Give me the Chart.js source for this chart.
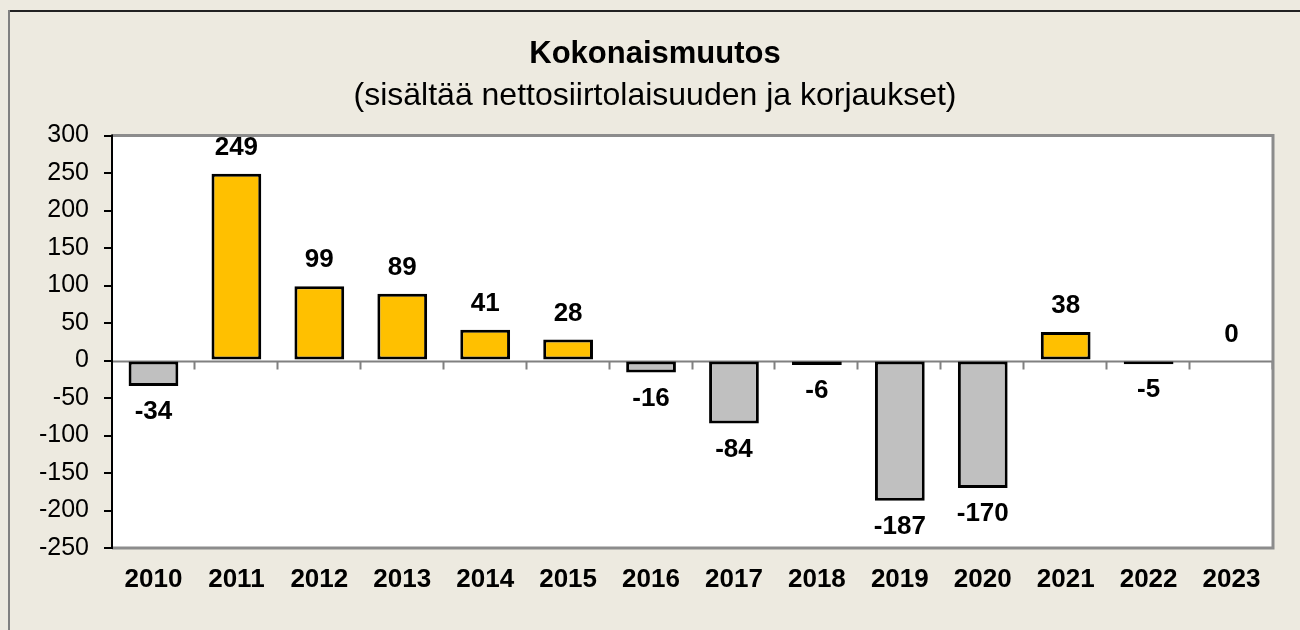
<!DOCTYPE html>
<html>
<head>
<meta charset="utf-8">
<script src="https://cdn.jsdelivr.net/npm/chart.js"></script>
<style>
    html, body { margin: 0; padding: 0; background: #EDEAE0; }
    #wrap { width: 1300px; height: 630px; }
</style>
</head>
<body>
<div id="wrap"><canvas id="muutosChart" width="1300" height="630"></canvas></div>
<script>
// vuodet ja kokonaismuutos
var years = ['2010', '2011', '2012', '2013', '2014', '2015', '2016',
    '2017', '2018', '2019', '2020', '2021', '2022', '2023'];
var changes = [-34, 249, 99, 89, 41, 28, -16, -84, -6, -187, -170, 38, -5, 0];
var yTicks = [300, 250, 200, 150, 100, 50, 0, -50, -100, -150, -200, -250];

var title = 'Kokonaismuutos';
var subtitle = '(sisältää nettosiirtolaisuuden ja korjaukset)';

var FONT = "'Liberation Sans', Arial, sans-serif";

var barColors = changes.map(function (v) {
    return v >= 0 ? '#FFC000' : '#C0C0C0';
});

var frameAndLabels = {
    id: 'frameAndLabels',
    beforeDraw: function (chart) {
        var ctx = chart.ctx;
        var a = chart.chartArea;
        ctx.save();
        ctx.fillStyle = '#EDEAE0';
        ctx.fillRect(0, 0, chart.width, chart.height);
        ctx.fillStyle = '#ffffff';
        ctx.fillRect(a.left, a.top, a.right - a.left, a.bottom - a.top);
        // ulkokehys
        ctx.lineWidth = 2;
        ctx.strokeStyle = '#222222';
        ctx.beginPath();
        ctx.moveTo(8, 11);
        ctx.lineTo(chart.width, 11);
        ctx.stroke();
        ctx.strokeStyle = '#808080';
        ctx.beginPath();
        ctx.moveTo(9, 10);
        ctx.lineTo(9, chart.height);
        ctx.stroke();
        ctx.restore();
    },
    beforeDatasetsDraw: function (chart) {
        var ctx = chart.ctx;
        var a = chart.chartArea;
        var y0 = Math.round(chart.scales.y.getPixelForValue(0)) + 0.5;
        ctx.save();
        ctx.strokeStyle = '#808080';
        ctx.lineWidth = 2;
        ctx.beginPath();
        ctx.moveTo(a.left, y0);
        ctx.lineTo(a.right, y0);
        var step = (a.right - a.left) / years.length;
        for (var i = 1; i <= years.length; i++) {
            var tx = Math.round(a.left + step * i) - 0.5;
            ctx.moveTo(tx, y0);
            ctx.lineTo(tx, y0 + 8);
        }
        ctx.stroke();
        ctx.restore();
    },
    afterDraw: function (chart) {
        var ctx = chart.ctx;
        var a = chart.chartArea;
        ctx.save();
        // kuva-alueen reunat
        ctx.strokeStyle = '#8c8c8c';
        ctx.lineWidth = 3;
        ctx.beginPath();
        ctx.moveTo(a.left, a.top);
        ctx.lineTo(a.right, a.top);
        ctx.lineTo(a.right, a.bottom);
        ctx.lineTo(a.left, a.bottom);
        ctx.stroke();
        ctx.strokeStyle = '#000000';
        ctx.lineWidth = 2;
        ctx.beginPath();
        ctx.moveTo(a.left, a.top - 1);
        ctx.lineTo(a.left, a.bottom + 1);
        ctx.stroke();

        // arvot pylväiden päälle / alle
        var meta = chart.getDatasetMeta(0);
        ctx.fillStyle = '#000000';
        ctx.font = 'bold 26px ' + FONT;
        ctx.textAlign = 'center';
        ctx.textBaseline = 'middle';
        meta.data.forEach(function (bar, i) {
            var v = changes[i];
            var ty = v >= 0 ? bar.y - 26 : bar.y + 26;
            ctx.fillText(String(v), bar.x, ty);
        });
        ctx.restore();
    }
};

var ctx = document.getElementById('muutosChart').getContext('2d');
var chart = new Chart(ctx, {
    type: 'bar',
    data: {
        labels: years,
        datasets: [{
            label: title,
            data: changes,
            backgroundColor: barColors,
            borderColor: '#000000',
            borderWidth: 3,
            borderSkipped: false,
            barPercentage: 0.6,
            categoryPercentage: 1.0
        }]
    },
    options: {
        responsive: false,
        animation: false,
        layout: {
            padding: { left: 37, right: 27, top: 0, bottom: 0 }
        },
        plugins: {
            legend: { display: false },
            tooltip: { enabled: false },
            title: {
                display: true,
                text: title,
                color: '#000000',
                font: { family: FONT, size: 31, weight: 'bold', lineHeight: 1.2 },
                padding: { top: 36, bottom: 0 }
            },
            subtitle: {
                display: true,
                text: subtitle,
                color: '#000000',
                font: { family: FONT, size: 32, weight: 'normal', lineHeight: 1.2 },
                padding: { top: 4, bottom: 20 }
            }
        },
        scales: {
            x: {
                grid: { display: true, drawOnChartArea: false, drawTicks: false },
                border: { display: false },
                ticks: {
                    color: '#000000',
                    padding: 16,
                    maxRotation: 0,
                    font: { family: FONT, size: 26, weight: 'bold' }
                },
                afterFit: function (scale) { scale.height = 82; }
            },
            y: {
                min: -250,
                max: 300,
                afterBuildTicks: function (scale) {
                    scale.ticks = yTicks.map(function (v) { return { value: v }; });
                },
                grid: {
                    drawOnChartArea: false,
                    drawTicks: true,
                    tickLength: 8,
                    color: '#000000',
                    lineWidth: 2
                },
                border: { display: false },
                ticks: {
                    color: '#000000',
                    padding: 15,
                    font: { family: FONT, size: 25 }
                },
                afterFit: function (scale) { scale.width = 75; }
            }
        }
    },
    plugins: [frameAndLabels]
});
</script>
</body>
</html>
